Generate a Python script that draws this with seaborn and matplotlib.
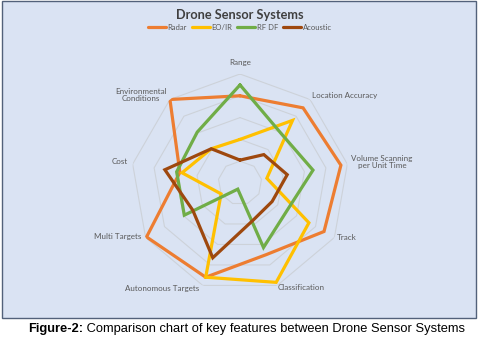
import numpy as np
import pandas as pd
import matplotlib
matplotlib.use("Agg")
import matplotlib.pyplot as plt
import seaborn as sns
from matplotlib.patches import Rectangle
from matplotlib.lines import Line2D

# ---------------- data ----------------
categories = ["Range", "Location Accuracy", "Volume Scanning\nper Unit Time", "Track",
              "Classification", "Autonomous Targets", "Multi Targets", "Cost",
              "Environmental\nConditions"]
series = ["Radar", "EO/IR", "RF DF", "Acoustic"]
radar = [4.0, 4.5, 4.7, 4.45, 3.5, 4.6, 4.95, 2.8, 5.0]
eo_ir = [2.0, 3.75, 1.25, 3.65, 4.85, 4.6, 1.0, 2.7, 2.05]
rf_df = [4.5, 2.95, 3.4, 2.5, 3.15, 0.3, 2.95, 2.95, 3.05]
acoustic = [1.05, 1.7, 2.2, 1.7, 1.8, 3.65, 2.5, 3.5, 2.05]
colors = ["#ED7D31", "#FFC000", "#70AD47", "#9E480E"]
title = "Drone Sensor Systems"
caption_bold = "Figure-2:"
caption_rest = " Comparison chart of key features between Drone Sensor Systems"

# ---------------- layout ----------------
W, H = 479, 351
sns.set_theme(style="white")
plt.rcParams["font.family"] = ["Lato", "DejaVu Sans"]

fig = plt.figure(figsize=(W / 100, H / 100), dpi=100)
fig.patch.set_facecolor("white")
fig.patches.append(Rectangle((2 / W, 1 - 318 / H), 474 / W, 317 / H,
                             transform=fig.transFigure, facecolor="#DAE3F3",
                             edgecolor="#52617A", lw=1.0, zorder=-5))

cx, cy, R = 240, 183, 109
ax = fig.add_axes([(cx - R) / W, 1 - (cy + R) / H, 2 * R / W, 2 * R / H], projection="polar")
ax.set_zorder(2)
ax.set_facecolor("none")
ax.patch.set_alpha(0)
ax.set_theta_zero_location("N")
ax.set_theta_direction(-1)

n = len(categories)
angles = np.linspace(0, 2 * np.pi, n, endpoint=False)
closed = np.append(angles, 2 * np.pi)
for r in range(1, 6):
    ax.plot(closed, [r] * (n + 1), color="#CDD2D9", lw=0.8, zorder=1)

rows = []
for name, vals in zip(series, [radar, eo_ir, rf_df, acoustic]):
    for i, (t, v) in enumerate(zip(closed, vals + [vals[0]])):
        rows.append({"theta": t, "value": v, "series": name, "order": i})
df = pd.DataFrame(rows)
sns.lineplot(data=df, x="theta", y="value", hue="series", hue_order=series,
             palette=dict(zip(series, colors)), sort=False, estimator=None,
             lw=2.3, ax=ax, legend=False, zorder=3)
for ln in ax.lines[5:]:
    ln.set_solid_joinstyle("miter")
ax.set_xlabel("")
ax.set_ylabel("")
ax.grid(False)
ax.spines["polar"].set_visible(False)
ax.set_xticks([])
ax.set_yticks([])
ax.set_ylim(0, 5)

# category labels (pixel positions of label centres)
label_pos = [(240, 63), (345, 95), (382, 162), (347, 238), (301, 288),
             (162, 288), (118, 237), (120, 162), (141, 95)]
for lab, (px, py) in zip(categories, label_pos):
    fig.text(px / W, 1 - py / H, lab, ha="center", va="center", fontsize=5.8,
             color="#595959", linespacing=1.15)

# title & legend
fig.text(240 / W, 1 - 15 / H, title, ha="center", va="center", fontsize=9.2,
         fontweight="bold", color="#404040")
handles = [Line2D([0], [0], color=c, lw=2.3) for c in colors]
fig.legend(handles, series, loc="center", bbox_to_anchor=(240 / W, 1 - 27 / H), ncol=4,
           frameon=False, fontsize=5.5, handlelength=2.3, handletextpad=0.25,
           columnspacing=0.65, labelcolor="#595959")

# caption
renderer = fig.canvas.get_renderer()
t1 = fig.text(28 / W, 1 - 329 / H, caption_bold, ha="left", va="center", fontsize=9.3,
              fontweight="bold", family=["Liberation Sans"], color="black")
bb = t1.get_window_extent(renderer)
fig.text(bb.x1 / W, 1 - 329 / H, caption_rest, ha="left", va="center", fontsize=9.3,
         family=["Liberation Sans"], color="black")

fig.savefig("out.png", dpi=100)
